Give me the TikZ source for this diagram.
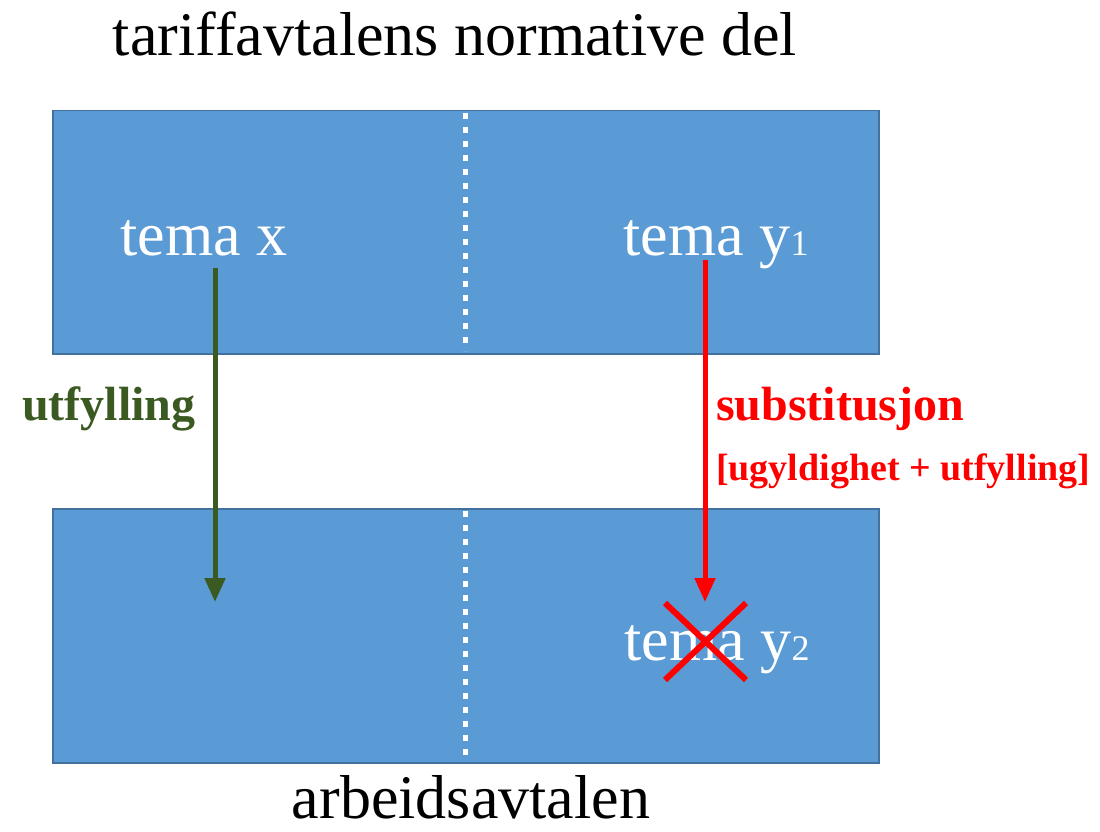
\documentclass[tikz,border=0pt]{standalone}
\usepackage{fontspec}
\setmainfont{Liberation Serif}
\usetikzlibrary{arrows.meta}
\definecolor{boxblue}{HTML}{5B9BD5}
\definecolor{boxline}{HTML}{41719C}
\definecolor{olive}{HTML}{3B5A22}
\definecolor{xred}{HTML}{FF0000}
\begin{document}
\begin{tikzpicture}[x=1pt,y=-1pt,
  panel/.style={fill=boxblue,draw=boxline,line width=1.5pt},
  divider/.style={white,line width=5pt,dash pattern=on 6pt off 8pt},
  bigtxt/.style={font=\fontsize{62}{70}\selectfont,inner sep=0pt,anchor=base},
  temalbl/.style={bigtxt,text=white},
  lbl/.style={font=\bfseries\fontsize{48}{54}\selectfont,inner sep=0pt,anchor=base west},
  smalllbl/.style={font=\bfseries\fontsize{38}{44}\selectfont,inner sep=0pt,anchor=base west},
  flow/.style={line width=5pt,-{Triangle[width=20pt,length=24pt]}},
  cross/.style={xred,line width=6pt}]
\useasboundingbox (0,0) rectangle (1100,832);
\node[bigtxt] (title) at (455,56) {tariffavtalens normative del};
\node[panel,minimum width=826pt,minimum height=243pt,anchor=north west] (top) at (52,110) {};
\node[panel,minimum width=826pt,minimum height=254pt,anchor=north west] (bot) at (52,508) {};
\draw[divider] (465,113) -- (465,351);
\draw[divider] (465,511) -- (465,760);
\node[temalbl] (temax) at (204,255) {tema x};
\node[temalbl] (temay1) at (716,255) {tema y{\fontsize{36}{40}\selectfont 1}};
\node[temalbl] (temay2) at (717,660) {tema y{\fontsize{36}{40}\selectfont 2}};
\node[bigtxt] (arb) at (471,818) {arbeidsavtalen};
\coordinate (gs) at (215,268);
\coordinate (ge) at (215,602);
\coordinate (rs) at (705,260);
\coordinate (re) at (705,602);
\draw[flow,olive] (gs) -- (ge);
\draw[flow,xred] (rs) -- (re);
\node[lbl,text=olive] (utf) at (22,420) {utfylling};
\node[lbl,text=xred] (sub) at (716,420) {substitusjon};
\node[smalllbl,text=xred] (ugy) at (716,480) {[ugyldighet + utfylling]};
\draw[cross] (665,603) -- (746,680);
\draw[cross] (746,603) -- (665,680);
\end{tikzpicture}
\end{document}
